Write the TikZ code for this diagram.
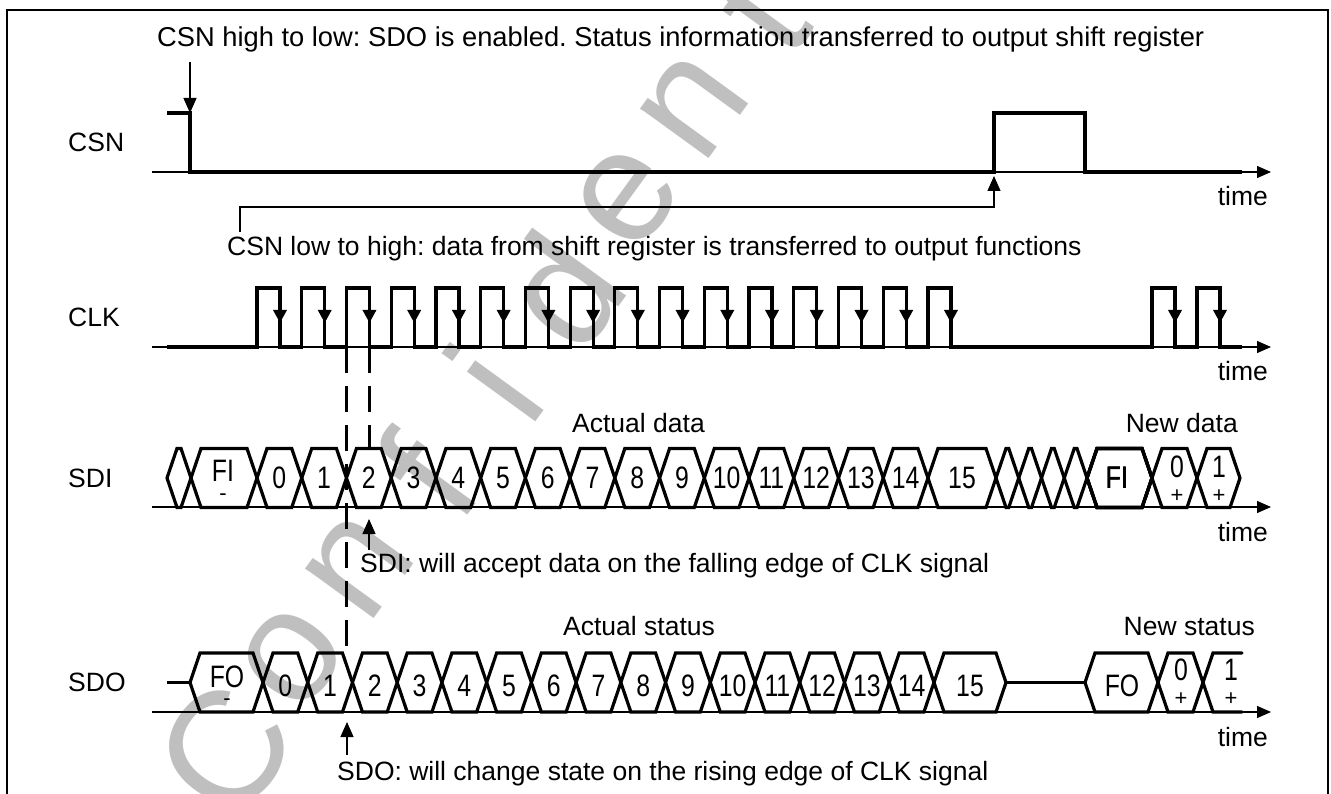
\documentclass[tikz,border=0pt]{standalone}
\usepackage{fontspec}
\setmainfont{Liberation Sans}
\newfontfamily\cellfont[FakeStretch=0.8]{Liberation Sans}
\usetikzlibrary{arrows.meta}
\frenchspacing

% one bus value between two crossings (left x, right x, middle y)
\newcommand{\buscell}[3]{%
  \draw[bus] (#1,#3) -- ++(10,-29.5) -- (#2-10,#3-29.5) -- (#2,#3)
             (#1,#3) -- ++(10,29.5) -- (#2-10,#3+29.5) -- (#2,#3);}

\begin{document}
\begin{tikzpicture}[x=1pt,y=-1pt,
  sig/.style={line width=3.2pt},
  bus/.style={line width=3.2pt,line cap=round},
  timeaxis/.style={line width=1.2pt,-{Triangle[length=14pt,width=12pt]}},
  note/.style={line width=1.2pt,-{Triangle[length=15pt,width=13pt]}},
  fallarrow/.style={line width=3.2pt,-{Triangle[length=13pt,width=13pt]}},
  guide/.style={line width=3pt,dash pattern=on 26pt off 13pt},
  txt/.style={font=\fontsize{26.5}{30}\selectfont,inner sep=0pt},
  celltext/.style={font=\cellfont\fontsize{31}{32}\selectfont,inner sep=0pt},
  signtext/.style={font=\fontsize{22}{22}\selectfont,inner sep=0pt},
  wmark/.style={font=\fontsize{160}{160}\selectfont,text=black!25,inner sep=0pt}]
  \useasboundingbox[fill=white] (0,0) rectangle (1331,794);
  % watermark
  \foreach \ch [count=\i from 0] in {C,o,n,f,i,d,e,n,t,i,a,l}
    \node[wmark,rotate=54] (wm\i) at ({225+67*\i},{750-92*\i}) {\ch};
  \draw[line width=1.2pt] (7,794) |- (1328,10) -- (1328,794);

  % row labels and time axes
  \node[txt,anchor=west] (csnlbl) at (68,142) {CSN};
  \node[txt,anchor=west] (clklbl) at (68,317.5) {CLK};
  \node[txt,anchor=west] (sdilbl) at (68,478) {SDI};
  \node[txt,anchor=west] (sdolbl) at (68,682.5) {SDO};
  \foreach \y [count=\n] in {172,347,507,712} {
    \draw[timeaxis] (152,\y) -- (1271,\y);
    \node[txt,anchor=base east] (time\n) at (1268,\y+34) {time};
  }

  % CSN
  \draw[sig] (167,113) -| (190,172) -| (994,113) -| (1085,172) -- (1242,172);
  \node[txt,font=\fontsize{27.3}{30}\selectfont,anchor=base west] (hightolow) at (157,47)
    {CSN high to low: SDO is enabled. Status information transferred to output shift register};
  \coordinate (csnfall) at (190,113);
  \coordinate (hlfrom) at (190,62);
  \draw[note] (hlfrom) -- (csnfall);
  \node[txt,anchor=base west] (lowtohigh) at (227,256)
    {CSN low to high: data from shift register is transferred to output functions};
  \coordinate (csnrise) at (994,176);
  \coordinate (lhfrom) at (240,232);
  \draw[note] (lhfrom) |- ([yshift=-31pt]csnrise) -- (csnrise);

  % CLK
  \draw[sig] (167,347) foreach \k in {0,...,15} {
      -- ({257+44.73*\k},347) -- ++(0,-59) -- ++(23,0) -- ++(0,59) }
    -- (1152,347) -- ++(0,-59) -- ++(23,0) -- ++(0,59)
    -- (1197,347) -- ++(0,-59) -- ++(23,0) -- ++(0,59) -- (1242,347);
  \foreach \f in {280,324.73,...,952,1175,1220}
    \draw[fallarrow] (\f,288) -- (\f,323);
  \draw[guide] (346,347) -- (346,653);
  \draw[guide] (369,347) -- (369,449);

  % SDI
  \node[txt,anchor=base west] (actdata) at (572,432) {Actual data};
  \node[txt,anchor=base east] (newdata) at (1238,432) {New data};
  \buscell{167}{191}{478}
  \buscell{191}{257}{478}
  \node[celltext,anchor=base] (sdifi) at (223,481) {FI};
  \node[signtext,anchor=base] (sdifis) at (223,500) {-};
  \foreach \k in {0,...,14} {
    \pgfmathsetmacro\a{257+44.73*\k}
    \pgfmathsetmacro\b{\a+44.73}
    \buscell{\a}{\b}{478}
    \node[celltext] (sdi\k) at ({(\a+\b)/2},478) {\k};
  }
  \buscell{928}{996}{478}
  \node[celltext] (sdi15) at (962,478) {15};
  \foreach \j in {0,...,3}
    \buscell{996+22.75*\j}{1018.75+22.75*\j}{478}
  \buscell{1087}{1152}{478}
  \node[celltext] (sdinfi) at (1117,478) {FI};
  \buscell{1152}{1197}{478}
  \node[celltext,anchor=base] (sdin0) at (1177,477) {0};
  \node[signtext,anchor=base] (sdin0s) at (1177,502) {+};
  \buscell{1197}{1240}{478}
  \node[celltext,anchor=base] (sdin1) at (1219,477) {1};
  \node[signtext,anchor=base] (sdin1s) at (1219,502) {+};
  \node[txt,anchor=base west] (sdinote) at (360,572)
    {SDI: will accept data on the falling edge of CLK signal};
  \coordinate (sditip) at (369,519);
  \coordinate (sdifrom) at (369,550);
  \draw[note] (sdifrom) -- (sditip);

  % SDO
  \node[txt,anchor=base west] (actstatus) at (563,635) {Actual status};
  \node[txt,anchor=base east] (newstatus) at (1255,635) {New status};
  \draw[sig] (167,682.5) -- (190,682.5);
  \buscell{190}{263}{682.5}
  \node[celltext,anchor=base] (sdofo) at (227,687) {FO};
  \node[signtext,anchor=base] (sdofos) at (227,705) {-};
  \foreach \k in {0,...,14} {
    \pgfmathsetmacro\a{263+44.73*\k}
    \pgfmathsetmacro\b{\a+44.73}
    \buscell{\a}{\b}{682.5}
    \node[celltext] (sdo\k) at ({(\a+\b)/2},686) {\k};
  }
  \buscell{934}{1006}{682.5}
  \node[celltext] (sdo15) at (970,686) {15};
  \draw[sig] (1006,682.5) -- (1085,682.5);
  \buscell{1085}{1158}{682.5}
  \node[celltext] (sdonfo) at (1122,686) {FO};
  \buscell{1158}{1203}{682.5}
  \node[celltext,anchor=base] (sdon0) at (1181,680) {0};
  \node[signtext,anchor=base] (sdon0s) at (1181,705) {+};
  \draw[bus] (1203,682.5) -- ++(10,-29.5) -- (1242,653)
             (1203,682.5) -- ++(10,29.5) -- (1242,712);
  \node[celltext,anchor=base] (sdon1) at (1231,680) {1};
  \node[signtext,anchor=base] (sdon1s) at (1231,705) {+};
  \node[txt,anchor=base west] (sdonote) at (337,780)
    {SDO: will change state on the rising edge of CLK signal};
  \coordinate (sdotip) at (347,722);
  \coordinate (sdofrom) at (347,755);
  \draw[note] (sdofrom) -- (sdotip);
\end{tikzpicture}
\end{document}
